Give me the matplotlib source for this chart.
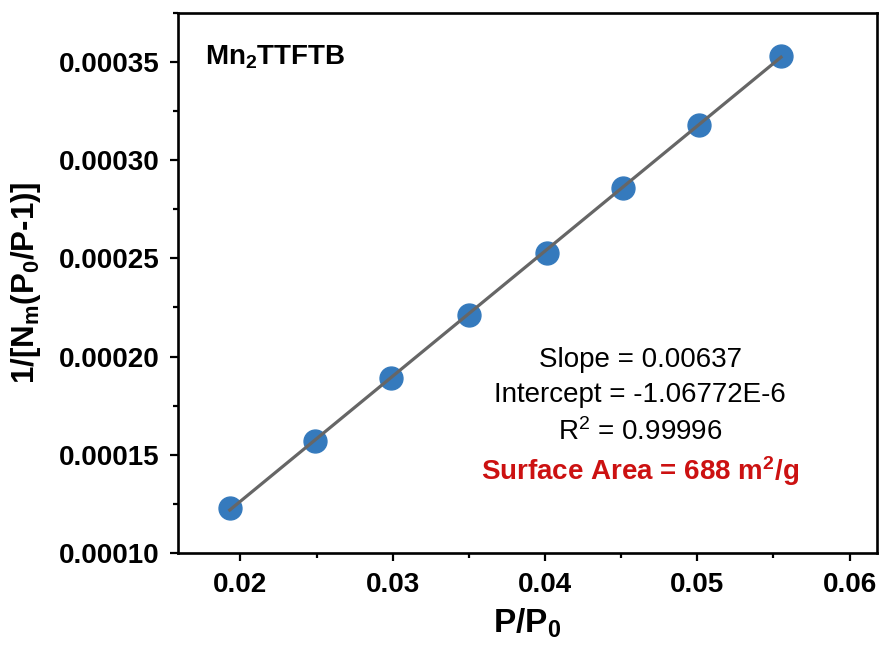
import matplotlib
matplotlib.use("Agg")
import matplotlib.pyplot as plt
import numpy as np
from matplotlib.ticker import MultipleLocator, FormatStrFormatter

plt.rcParams['font.family'] = ['Liberation Sans', 'DejaVu Sans']
plt.rcParams['mathtext.fontset'] = 'custom'
plt.rcParams['mathtext.rm'] = 'Liberation Sans'
plt.rcParams['mathtext.bf'] = 'Liberation Sans:bold'
plt.rcParams['mathtext.it'] = 'Liberation Sans:italic'

# Data
p_rel = [0.0193, 0.0249, 0.0299, 0.0350, 0.0401, 0.0451, 0.0501, 0.0555]
bet_y = [0.000123, 0.000157, 0.000189, 0.000221, 0.000253, 0.000286, 0.000318, 0.000353]
slope = 0.00637
intercept = -1.06772e-6
sample_name = r"Mn$_\mathbf{2}$TTFTB"
fit_lines = ["Slope = 0.00637", "Intercept = -1.06772E-6", r"R$^2$ = 0.99996"]
area_text = r"Surface Area = 688 m$^\mathbf{2}$/g"

fig = plt.figure(figsize=(8.82, 6.46), dpi=100)
ax = fig.add_axes([0.2018, 0.144, 0.9943 - 0.2018, 0.98 - 0.144])

xfit = np.array([min(p_rel), max(p_rel)])
ax.plot(xfit, slope * xfit + intercept, color='#666666', lw=2.3, zorder=3)
ax.plot(p_rel, bet_y, 'o', color='#357abd', ms=16.5, mec='#357abd', zorder=2)

ax.set_xlim(0.0159, 0.0618)
ax.set_ylim(0.00010, 0.000375)
ax.xaxis.set_major_locator(MultipleLocator(0.01))
ax.xaxis.set_minor_locator(MultipleLocator(0.005))
ax.yaxis.set_major_locator(MultipleLocator(0.00005))
ax.yaxis.set_minor_locator(MultipleLocator(0.000025))
ax.xaxis.set_major_formatter(FormatStrFormatter('%.2f'))
ax.yaxis.set_major_formatter(FormatStrFormatter('%.5f'))

for s in ax.spines.values():
    s.set_linewidth(1.9)
ax.tick_params(which='major', direction='out', length=6, width=1.6, labelsize=20)
ax.tick_params(axis='x', which='major', pad=8)
ax.tick_params(axis='y', which='major', pad=7)
ax.tick_params(which='minor', direction='out', length=3.5, width=1.6)
for lab in ax.get_xticklabels() + ax.get_yticklabels():
    lab.set_fontweight('bold')

ax.set_xlabel(r"P/P$_\mathbf{0}$", fontsize=24, fontweight='bold', labelpad=6)
ax.set_ylabel(r"1/[N$_\mathbf{m}$(P$_\mathbf{0}$/P-1)]", fontsize=22.5, fontweight='bold', labelpad=12)

ax.text(0.039, 0.917, sample_name, transform=ax.transAxes, fontsize=20, fontweight='bold',
        ha='left', va='center')

ys = [0.357, 0.293, 0.224, 0.152]
for t, y in zip(fit_lines, ys[:3]):
    ax.text(0.661, y, t, transform=ax.transAxes, fontsize=20, ha='center', va='center')
ax.text(0.661, ys[3], area_text, transform=ax.transAxes, fontsize=20, fontweight='bold',
        color='#cc1111', ha='center', va='center')

fig.savefig("out.png", dpi=100)
